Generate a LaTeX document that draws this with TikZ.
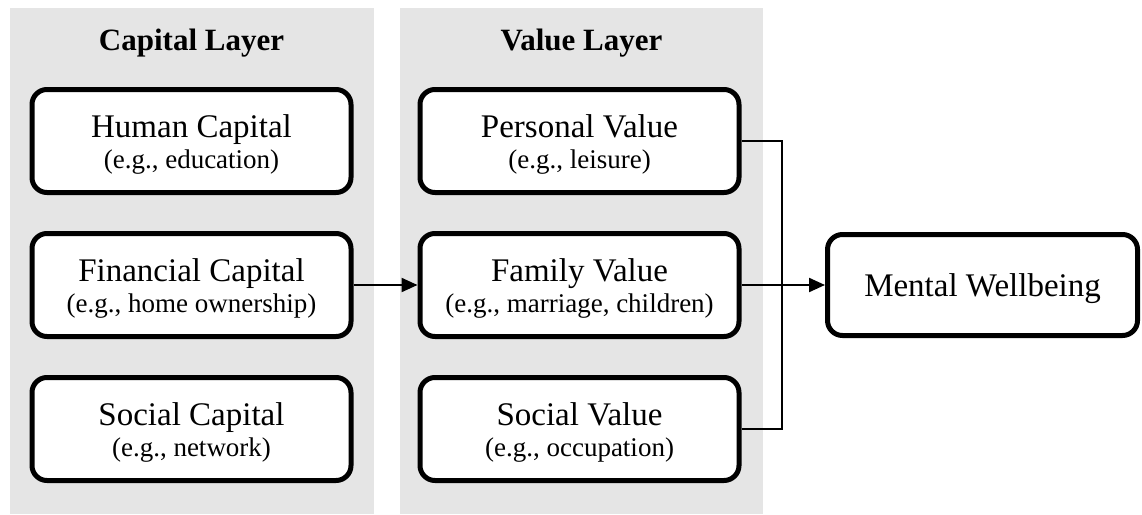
\documentclass[tikz,border=0pt]{standalone}
\usepackage{fontspec}
\setmainfont{Liberation Serif}
\usetikzlibrary{arrows.meta}
\definecolor{panelgray}{HTML}{E5E5E5}
\begin{document}
\begin{tikzpicture}[x=1pt,y=-1pt,
  box/.style={draw=black,line width=5pt,rounded corners=15pt,fill=white,
    minimum width=319pt,minimum height=103pt,inner sep=0pt},
  main/.style={anchor=base,inner sep=0pt,font=\fontsize{33}{36}\selectfont},
  sub/.style={anchor=base,inner sep=0pt,font=\fontsize{27}{30}\selectfont},
  title/.style={anchor=base,inner sep=0pt,font=\fontsize{31}{34}\selectfont\bfseries},
  thin/.style={line width=1.6pt},
  tip/.style={-{Triangle[length=16pt,width=14pt]}}]
\useasboundingbox (0,0) rectangle (1142,514);
\fill[panelgray] (10,8) rectangle (374,514);
\fill[panelgray] (400,8) rectangle (763,514);
\node[title] (t1) at (191.5,50) {Capital Layer};
\node[title] (t2) at (581.5,50) {Value Layer};
\node[box] (hc) at (191.5,141) {};
\node[box] (fc) at (191.5,285) {};
\node[box] (sc) at (191.5,429) {};
\node[box] (pv) at (579.5,141) {};
\node[box] (fv) at (579.5,285) {};
\node[box] (sv) at (579.5,429) {};
\node[box,minimum width=310pt,minimum height=101pt] (mw) at (982.5,285) {};
\node[main] (hc1) at ([yshift=3.3pt]hc.center) {Human Capital};
\node[sub]  (hc2) at ([yshift=-27.5pt]hc.center) {(e.g., education)};
\node[main] (fc1) at ([yshift=3.3pt]fc.center) {Financial Capital};
\node[sub]  (fc2) at ([yshift=-27.5pt]fc.center) {(e.g., home ownership)};
\node[main] (sc1) at ([yshift=3.3pt]sc.center) {Social Capital};
\node[sub]  (sc2) at ([yshift=-27.5pt]sc.center) {(e.g., network)};
\node[main] (pv1) at ([yshift=3.3pt]pv.center) {Personal Value};
\node[sub]  (pv2) at ([yshift=-27.5pt]pv.center) {(e.g., leisure)};
\node[main] (fv1) at ([yshift=3.3pt]fv.center) {Family Value};
\node[sub]  (fv2) at ([yshift=-27.5pt]fv.center) {(e.g., marriage, children)};
\node[main] (sv1) at ([yshift=3.3pt]sv.center) {Social Value};
\node[sub]  (sv2) at ([yshift=-27.5pt]sv.center) {(e.g., occupation)};
\node[main] (mw1) at ([yshift=-11.5pt]mw.center) {Mental Wellbeing};
\coordinate (j) at (782,285);
\draw[thin] (pv.east) -| (j);
\draw[thin] (sv.east) -| (j);
\draw[line width=2.2pt,tip] (fv.east) -- (mw.west);
\draw[line width=2.2pt,tip] (fc.east) -- (fv.west);
\end{tikzpicture}
\end{document}
